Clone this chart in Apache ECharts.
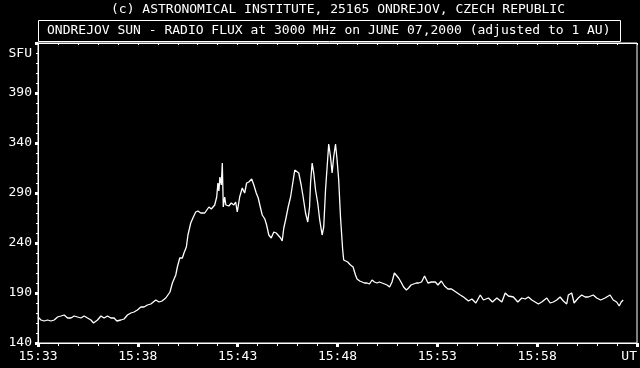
<!DOCTYPE html>
<html>
<head>
<meta charset="utf-8">
<script src="https://cdn.jsdelivr.net/npm/echarts@6/dist/echarts.min.js"></script>
<style>
html,body{margin:0;padding:0;background:#000;}
#chart{width:640px;height:368px;}
</style>
</head>
<body>
<div id="chart"></div>
<script>
// Chart texts
const titleTop = '(c) ASTRONOMICAL INSTITUTE, 25165 ONDREJOV, CZECH REPUBLIC';
const titleBox = 'ONDREJOV SUN - RADIO FLUX at 3000 MHz on JUNE 07,2000 (adjusted to 1 AU)';
const yUnit = 'SFU';
// Tick labels
const xTickLabels = ['15:33', '15:38', '15:43', '15:48', '15:53', '15:58', 'UT'];
const yTickLabels = ['140', '190', '240', '290', '340', '390'];
// Time in minutes after 15:33 UT
const minutes = [
  0.00, 0.15, 0.31, 0.48, 0.65, 0.81, 0.98, 1.15, 1.31, 1.48, 1.65, 1.81, 1.98, 2.15, 2.31, 2.48,
  2.65, 2.78, 2.98, 3.15, 3.31, 3.48, 3.65, 3.81, 3.95, 4.15, 4.31, 4.48, 4.65, 4.81, 4.98, 5.15,
  5.31, 5.48, 5.65, 5.73, 5.90, 6.06, 6.21, 6.40, 6.48, 6.61, 6.73, 6.90, 6.98, 7.10, 7.23, 7.31,
  7.43, 7.51, 7.65, 7.78, 7.90, 8.01, 8.15, 8.23, 8.35, 8.45, 8.56, 8.68, 8.78, 8.85, 8.95, 9.01,
  9.06, 9.11, 9.18, 9.23, 9.28, 9.35, 9.41, 9.48, 9.56, 9.68, 9.81, 9.90, 9.98, 10.10, 10.23, 10.35,
  10.45, 10.56, 10.70, 10.81, 10.93, 11.03, 11.11, 11.23, 11.36, 11.45, 11.56, 11.68, 11.81, 11.93, 12.03, 12.15,
  12.23, 12.31, 12.40, 12.53, 12.65, 12.76, 12.86, 12.95, 13.06, 13.18, 13.28, 13.40, 13.51, 13.60, 13.65, 13.73,
  13.81, 13.90, 14.01, 14.11, 14.23, 14.31, 14.40, 14.48, 14.56, 14.65, 14.73, 14.81, 14.90, 14.98, 15.06, 15.15,
  15.26, 15.31, 15.40, 15.51, 15.65, 15.78, 15.90, 15.98, 16.11, 16.23, 16.35, 16.48, 16.60, 16.73, 16.85, 16.98,
  17.10, 17.23, 17.36, 17.48, 17.61, 17.73, 17.85, 17.95, 18.06, 18.18, 18.31, 18.45, 18.56, 18.68, 18.81, 18.95,
  19.06, 19.21, 19.36, 19.53, 19.71, 19.90, 20.03, 20.20, 20.36, 20.53, 20.71, 20.93, 21.15, 21.31, 21.56, 21.73,
  21.93, 22.15, 22.31, 22.56, 22.76, 22.98, 23.23, 23.40, 23.56, 23.81, 24.03, 24.23, 24.40, 24.56, 24.73, 24.90,
  25.06, 25.23, 25.48, 25.65, 25.81, 25.98, 26.15, 26.31, 26.48, 26.56, 26.73, 26.85, 27.06, 27.23, 27.40, 27.56,
  27.81, 27.98, 28.18, 28.40, 28.65, 28.81, 28.98, 29.11, 29.21, 29.31
];
// Radio flux in SFU
const flux = [
  166, 163, 162, 163, 162, 163, 166, 167, 168, 165, 165, 167, 166, 165, 167, 165,
  163, 160, 163, 167, 165, 167, 165, 165, 162, 163, 164, 168, 170, 171, 173, 176,
  176, 178, 179, 181, 183, 181, 182, 185, 187, 191, 200, 208, 216, 225, 225, 230,
  236, 248, 260, 266, 271, 272, 270, 268, 270, 270, 276, 274, 273, 278, 286, 300,
  292, 306, 298, 320, 276, 286, 278, 276, 277, 280, 278, 281, 271, 286, 295, 290,
  300, 301, 304, 298, 290, 285, 278, 268, 264, 258, 248, 245, 251, 250, 251, 245,
  242, 255, 263, 276, 286, 300, 313, 315, 310, 298, 286, 270, 261, 276, 300, 320,
  310, 293, 280, 263, 248, 256, 293, 316, 339, 326, 310, 326, 339, 323, 303, 266,
  233, 223, 221, 221, 218, 216, 208, 204, 202, 201, 200, 200, 199, 203, 201, 200,
  201, 200, 199, 198, 196, 201, 210, 208, 205, 201, 196, 193, 195, 198, 199, 200,
  200, 201, 207, 200, 201, 201, 198, 202, 197, 194, 194, 191, 188, 186, 182, 184,
  180, 188, 183, 185, 181, 185, 181, 190, 187, 186, 181, 185, 184, 186, 183, 181,
  179, 181, 185, 180, 181, 183, 186, 182, 179, 188, 190, 180, 185, 188, 186, 186,
  188, 185, 183, 185, 188, 183, 181, 177, 181, 183
];

const FONT = '"DejaVu Sans Mono", "Liberation Mono", monospace';
const data = minutes.map((m, i) => [m, flux[i]]);

const chart = echarts.init(document.getElementById('chart'), null, {renderer: 'canvas'});
chart.setOption({
  backgroundColor: '#000',
  animation: false,
  textStyle: {fontFamily: FONT, color: '#fff'},
  title: [
    {
      text: titleTop,
      left: 338, top: 2, textAlign: 'center', padding: 0,
      textStyle: {color: '#fff', fontSize: 13, fontWeight: 'normal', fontFamily: FONT, lineHeight: 15}
    },
    {
      text: titleBox,
      left: 38, top: 20,
      padding: [4, 10, 4, 9],
      borderColor: '#fff', borderWidth: 1,
      textStyle: {color: '#fff', fontSize: 13, fontWeight: 'normal', fontFamily: FONT, lineHeight: 14}
    }
  ],
  grid: {left: 38, right: 2, top: 43, bottom: 25, show: true, borderColor: '#fff', borderWidth: 1, backgroundColor: 'transparent'},
  xAxis: [
    {
      type: 'value', min: 0, max: 30, interval: 5, position: 'bottom',
      axisLine: {show: true, lineStyle: {color: '#fff', width: 1}},
      axisTick: {show: true, length: 4, lineStyle: {color: '#fff', width: 3}},
      minorTick: {show: true, splitNumber: 5, length: 3, lineStyle: {color: '#fff', width: 1}},
      splitLine: {show: false},
      axisLabel: {
        color: '#fff', fontFamily: FONT, fontSize: 13, margin: 7,
        alignMaxLabel: 'right',
        formatter: v => xTickLabels[Math.round(v / 5)]
      }
    },
    {
      type: 'value', min: 0, max: 30, interval: 5, position: 'top',
      axisLine: {show: true, lineStyle: {color: '#fff'}},
      axisTick: {show: true, inside: true, length: 2, lineStyle: {color: '#fff'}},
      minorTick: {show: true, splitNumber: 5, length: 2, lineStyle: {color: '#fff'}},
      splitLine: {show: false},
      axisLabel: {show: false}
    }
  ],
  yAxis: {
    type: 'value', min: 140, max: 440, interval: 50,
    name: yUnit, nameLocation: 'end', nameGap: -11,
    nameTextStyle: {color: '#fff', fontFamily: FONT, fontSize: 13, align: 'right', verticalAlign: 'middle', padding: [0, 6, 0, 0]},
    axisLine: {show: true, lineStyle: {color: '#fff', width: 1}},
    axisTick: {show: true, length: 3, lineStyle: {color: '#fff', width: 3}},
    minorTick: {show: true, splitNumber: 5, length: 2, lineStyle: {color: '#fff', width: 1}},
    splitLine: {show: false},
    axisLabel: {
      color: '#fff', fontFamily: FONT, fontSize: 13, margin: 6,
      showMaxLabel: false,
      formatter: v => {
        const i = Math.round((v - 140) / 50);
        return i < yTickLabels.length ? yTickLabels[i] : '';
      }
    }
  },
  series: [{
    type: 'line',
    data: data,
    xAxisIndex: 0,
    showSymbol: false,
    symbol: 'none',
    sampling: null,
    lineStyle: {color: '#fff', width: 1.3},
    clip: true
  }]
});
</script>
</body>
</html>
